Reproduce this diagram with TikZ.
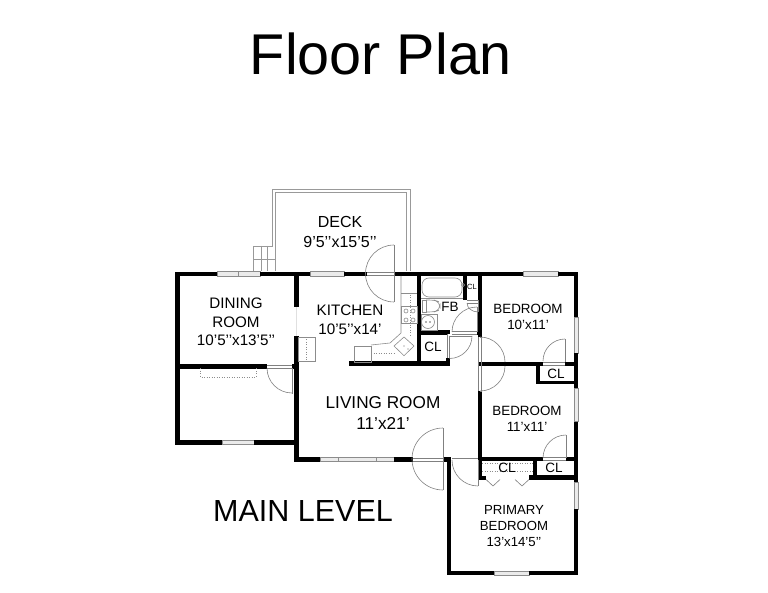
\documentclass[tikz,border=0pt]{standalone}
\usepackage{fontspec}
\setmainfont{Liberation Sans}
\tikzset{
  wall/.style={line width=4.5pt,black},
  thinwall/.style={line width=3.6pt,black},
  fixture/.style={draw=black!45,line width=0.6pt},
  doorline/.style={draw=black!50,line width=0.6pt},
  dotline/.style={draw=black!45,line width=0.5pt,dotted},
  win/.style={draw=black!45,fill=black!8,line width=0.6pt},
  deckline/.style={draw=black!40,line width=0.7pt},
}
\begin{document}
\begin{tikzpicture}[x=1pt,y=-1pt]
        \useasboundingbox (0,0) rectangle (768,593);
        \fill[white] (0,0) rectangle (768,593);
        % deck
        \draw[deckline] (253,271) -- (253,246) -- (272,246) -- (272,189) -- (410,189) -- (410,271);
        \draw[deckline] (275,271) -- (275,192) -- (406.7,192) -- (406.7,271);
        \draw[deckline] (261,246) -- (261,271);
        \draw[deckline] (267,246) -- (267,271);
        \draw[deckline] (253,259) -- (275,259);
        % windows
        \draw[win] (217,271.8) rectangle (260,276.2);
        \draw[win] (238,271.8) -- (238,276.2);
        \draw[win] (310,271.8) rectangle (344,276.2);
        \draw[win] (523,271.8) rectangle (558,276.2);
        \draw[win] (573.8,317) rectangle (578.2,353);
        \draw[win] (573.8,388) rectangle (578.2,421.5);
        \draw[win] (573.8,482) rectangle (578.2,509);
        \draw[win] (494,570.8) rectangle (529,575.2);
        \draw[win] (222,440.3) rectangle (254,444.7);
        \draw[win] (320,457.3) rectangle (394,461.7);
        \draw[win] (338,457.3) -- (338,461.7);
        \draw[win] (376,457.3) -- (376,461.7);
        % walls
        \draw[wall] (217,274) -- (177.5,274) -- (177.5,442.5) -- (222,442.5);
        \draw[wall] (254,442.5) -- (296.5,442.5);
        \draw[wall] (296.5,336) -- (296.5,459.5) -- (320,459.5);
        \draw[wall] (394,459.5) -- (413,459.5);
        \draw[wall] (443,459.5) -- (449,459.5) -- (449,573) -- (494,573);
        \draw[wall] (529,573) -- (576,573) -- (576,509);
        \draw[wall] (576,482) -- (576,421.5);
        \draw[wall] (576,388) -- (576,353);
        \draw[wall] (576,317) -- (576,274) -- (558,274);
        \draw[wall] (523,274) -- (394,274);
        \draw[wall] (367,274) -- (344,274);
        \draw[wall] (310,274) -- (260,274);
        \draw[wall] (296.5,274) -- (296.5,307);
        \draw[wall] (177.5,366.5) -- (267,366.5);
        \draw[wall] (292,366.5) -- (296.5,366.5);
        \draw[wall] (349,363.5) -- (448,363.5) -- (448,358);
        \draw[wall] (419,274) -- (419,363.5);
        \draw[wall] (448,334) -- (448,332.5) -- (419,332.5);
        \draw[wall] (465,274) -- (465,300);
        \draw[wall] (477,332.5) -- (480,332.5);
        \draw[wall] (480,274) -- (480,337);
        \draw[wall] (478,364) -- (543,364);
        \draw[wall] (565,364) -- (576,364);
        \draw[wall] (480,391) -- (480,459);
        \draw[wall] (478,459) -- (543,459);
        \draw[wall] (566,459) -- (576,459);
        \draw[wall] (535,459) -- (535,477.5);
        \draw[wall] (529,477.5) -- (578,477.5);
        \draw[wall] (480,459) -- (480,478) -- (486,478);
        \draw[thinwall] (538,364) -- (538,382.5) -- (578,382.5);
        % doors
        \draw[doorline] (367,272.5) -- (394,272.5) (367,275.5) -- (394,275.5);
        \draw[doorline] (394,245) -- (394,302);
        \draw[doorline] (394,245) arc (-90:-270:28.5);
        \draw[doorline] (413,458) -- (443,458) (413,461) -- (443,461);
        \draw[doorline] (443,428) -- (443,490);
        \draw[doorline] (443,428) arc (-90:-270:31);
        \draw[doorline] (452,458) -- (478,458);
        \draw[doorline] (478,460) -- (478,486);
        \draw[doorline] (452,460) arc (180:90:26);
        \draw[doorline] (478.5,337) -- (478.5,391) (481.5,337) -- (481.5,391);
        \draw[doorline] (480,337) arc (-90:0:25);
        \draw[doorline] (505,366) arc (0:90:25);
        \draw[doorline] (480,337) -- (482,337) (480,391) -- (482,391);
        \draw[doorline] (543,362) -- (565,362) (543,365.5) -- (565,365.5);
        \draw[doorline] (565,362) -- (565,339);
        \draw[doorline] (565,339) arc (-90:-180:22);
        \draw[doorline] (543,457.5) -- (566,457.5) (543,460.5) -- (566,460.5);
        \draw[doorline] (566,458) -- (566,435);
        \draw[doorline] (566,435) arc (-90:-180:23);
        \draw[doorline] (449.5,336) -- (449.5,358.5) (447,334) -- (447,358);
        \draw[doorline] (449.5,336) -- (472,336);
        \draw[doorline] (472,336) arc (0:90:22.5);
        \draw[doorline] (452,331) -- (477,331) (452,334) -- (477,334);
        \draw[doorline] (477,332) -- (477,307);
        \draw[doorline] (477,307) arc (-90:-180:25);
        \draw[doorline] (267,365) -- (292,365) (267,368) -- (292,368);
        \draw[doorline] (292,368) -- (292,393.5);
        \draw[doorline] (267,368) arc (180:90:25);
        \draw[black!12,line width=0.5pt] (296,307) -- (296,336);
        % closet by the bath and folding doors
        \draw[doorline] (467,300) -- (478,300) (467,303) -- (478,303) (478,300) -- (478,312);
        \draw[doorline] (467,303) .. controls (467,308) and (472,312) .. (478,312);
        \draw[doorline] (486,479.5) -- (493,486) -- (500,479.5);
        \draw[doorline] (515,479.5) -- (522,486) -- (529,479.5);
        \draw[dotline] (482,463.5) -- (533,463.5);
        \draw[dotline] (482,471) -- (533,471);
        \draw[dotline] (200.7,368) -- (200.7,377) -- (256,377) -- (256,368);
        % bath
        \draw[fixture] (421,298) -- (463,298);
        \draw[fixture,rounded corners=7pt] (422,278) rectangle (462,297);
        \draw[fixture] (463,285) circle (1.6);
        \draw[fixture] (422,300) rectangle (426,312);
        \draw[fixture,rounded corners=5pt] (426,300) -- (434,300) -- (440,302) -- (440,310) -- (434,312) -- (426,312);
        \draw[fixture] (421,314) rectangle (437,330);
        \draw[fixture] (428,322) circle (6.5);
        \fill[black!60] (426,322) circle (0.8) (430,322) circle (0.8);
        % kitchen
        \draw[fixture] (401,276) -- (401,323) -- (401,333) -- (390,343) -- (371,345);
        \draw[fixture] (401,293) -- (417,293);
        \draw[fixture] (401.7,306.7) rectangle (417,323);
        \foreach \sx in {406,413} \foreach \sy in {311,320} \draw[fixture] (\sx,\sy) circle (2);
        \draw[fixture] (354,346) rectangle (371,362);
        \draw[fixture] (404,337) -- (414,346) -- (404,355.7) -- (394,346) -- cycle;
        \fill[black!60] (404,346) circle (0.7) (408,349) circle (0.7);
        \draw[dotline] (371,353) -- (395,353);
        \draw[dotline] (410,295) -- (410,337);
        \draw[fixture] (298,337) rectangle (315,361);
        \draw[dotline] (306,337) -- (306,361);
        % labels
        \node[font=\fontsize{57.5}{60}\selectfont] (title) at (381,54) {Floor Plan};
        \node[font=\fontsize{30.5}{32}\selectfont] (mainlevel) at (303,511) {MAIN LEVEL};
        \node[font=\fontsize{16}{18}\selectfont,align=center,inner sep=0pt] (deck) at (340,232) {DECK\\[2pt]9'5'{}'x15'5'{}'};
        \node[font=\fontsize{15.2}{17}\selectfont,align=center,inner sep=0pt] (dining) at (236,322) {DINING\\[2pt]ROOM\\[1pt]10'5'{}'x13'5'{}'};
        \node[font=\fontsize{15.2}{17}\selectfont,align=center,inner sep=0pt] (kitchen) at (350,320) {KITCHEN\\[2pt]10'5'{}'x14'};
        \node[font=\fontsize{17.2}{19}\selectfont,align=center,inner sep=0pt] (living) at (383,413) {LIVING ROOM\\[2pt]11'x21'};
        \node[font=\fontsize{13.4}{15}\selectfont,align=center,inner sep=0pt] (bedone) at (528,317) {BEDROOM\\[1pt]10'x11'};
        \node[font=\fontsize{13.4}{15}\selectfont,align=center,inner sep=0pt] (bedtwo) at (527,419) {BEDROOM\\[1pt]11'x11'};
        \node[font=\fontsize{13.2}{16}\selectfont,align=center,inner sep=0pt] (primary) at (514,526.5) {PRIMARY\\BEDROOM\\13'x14'5'{}'};
        \node[font=\fontsize{13.5}{15}\selectfont,inner sep=0pt] (fb) at (450,307) {FB};
        \node[font=\fontsize{13.5}{15}\selectfont,inner sep=0pt] (clkitchen) at (433,347) {CL};
        \node[font=\fontsize{13.5}{15}\selectfont,inner sep=0pt] (clbedone) at (556,374) {CL};
        \node[font=\fontsize{13.5}{15}\selectfont,inner sep=0pt] (clprimary) at (507,468) {CL};
        \node[font=\fontsize{13.5}{15}\selectfont,inner sep=0pt] (clbedtwo) at (554,468) {CL};
        \node[font=\fontsize{7.5}{9}\selectfont,inner sep=0pt] (clbath) at (472,287) {CL};
\end{tikzpicture}
\end{document}
